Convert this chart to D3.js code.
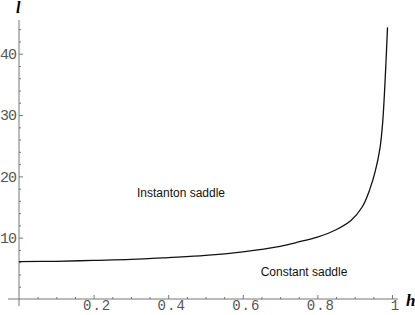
<!DOCTYPE html>
<html>
<head>
<meta charset="utf-8">
<script src="https://cdn.jsdelivr.net/npm/d3@7"></script>
<style>
  body { margin: 0; background: #fff; }
</style>
</head>
<body>
<div id="wrapper"></div>
<script>
// values
const hValues = [0, 0.1, 0.2, 0.3, 0.4, 0.5, 0.6, 0.7, 0.75, 0.8, 0.85, 0.89, 0.92, 0.94, 0.955, 0.968, 0.975, 0.981, 0.988]
const lValues = [6.1, 6.15, 6.3, 6.45, 6.75, 7.1, 7.7, 8.6, 9.3, 10.1, 11.3, 12.8, 15.0, 17.8, 20.8, 24.7, 28.8, 35.0, 44.3]

const xTickValues = [0.2, 0.4, 0.6, 0.8, 1]
const xTickLabels = ["0.2", "0.4", "0.6", "0.8", "1"]
const yTickValues = [10, 20, 30, 40]
const yTickLabels = ["10", "20", "30", "40"]
const regionLabels = ["Instanton saddle", "Constant saddle"]

const data = hValues.map((h, i) => ({ h: h, l: lValues[i] }))
const xAccessor = d => d.h
const yAccessor = d => d.l

let dms = {
  width: 415,
  height: 315,
}

const wrapper = d3.select("#wrapper")
  .append("svg")
  .attr("width", dms.width)
  .attr("height", dms.height)

const xScale = d3.scaleLinear()
  .domain([0, 1])
  .range([19, 392])

const yScale = d3.scaleLinear()
  .domain([0, 45.5])
  .range([299, 20])

const axisColor = "#777"
const labelFont = "'Liberation Mono', 'DejaVu Sans Mono', monospace"

// axis lines, drawn a bit past the origin like the original
wrapper.append("line")
  .attr("x1", 8).attr("x2", 398)
  .attr("y1", yScale(0)).attr("y2", yScale(0))
  .attr("stroke", axisColor)
  .attr("stroke-width", 1)

wrapper.append("line")
  .attr("x1", xScale(0)).attr("x2", xScale(0))
  .attr("y1", yScale(45.5)).attr("y2", 306)
  .attr("stroke", axisColor)
  .attr("stroke-width", 1)

// minor ticks
const xMinor = d3.range(1, 21).map(i => i * 0.05).filter(v => Math.round(v * 100) % 20 !== 0)
const yMinor = d3.range(1, 23).map(i => i * 2).filter(v => v % 10 !== 0)

wrapper.append("g")
  .attr("transform", `translate(0, ${yScale(0)})`)
  .call(d3.axisBottom(xScale).tickValues(xMinor).tickSize(-2).tickFormat(""))
  .call(g => g.select(".domain").remove())
  .call(g => g.selectAll("line").attr("stroke", axisColor))

wrapper.append("g")
  .attr("transform", `translate(${xScale(0)}, 0)`)
  .call(d3.axisLeft(yScale).tickValues(yMinor).tickSize(-2).tickFormat(""))
  .call(g => g.select(".domain").remove())
  .call(g => g.selectAll("line").attr("stroke", axisColor))

// major ticks + labels
const xAxis = wrapper.append("g")
  .attr("transform", `translate(0, ${yScale(0)})`)
  .call(d3.axisBottom(xScale)
    .tickValues(xTickValues)
    .tickSize(-4)
    .tickPadding(1)
    .tickFormat((d, i) => xTickLabels[i]))
  .call(g => g.select(".domain").remove())

xAxis.selectAll("line").attr("stroke", axisColor)
xAxis.selectAll("text")
  .attr("font-family", labelFont)
  .attr("font-size", 14)
  .attr("letter-spacing", 1)
  .attr("fill", "#555")
  .attr("dx", 3)

const yAxis = wrapper.append("g")
  .attr("transform", `translate(${xScale(0)}, 0)`)
  .call(d3.axisLeft(yScale)
    .tickValues(yTickValues)
    .tickSize(-4)
    .tickPadding(3)
    .tickFormat((d, i) => yTickLabels[i]))
  .call(g => g.select(".domain").remove())

yAxis.selectAll("line").attr("stroke", axisColor)
yAxis.selectAll("text")
  .attr("font-family", labelFont)
  .attr("font-size", 15)
  .attr("letter-spacing", -1)
  .attr("fill", "#555")

// axis names
wrapper.append("text")
  .attr("x", 16)
  .attr("y", 13)
  .attr("font-family", "'Liberation Serif', serif")
  .attr("font-style", "italic")
  .attr("font-weight", "bold")
  .attr("font-size", 16)
  .text("l")

wrapper.append("text")
  .attr("x", 406)
  .attr("y", 306)
  .attr("font-family", "'Liberation Serif', serif")
  .attr("font-style", "italic")
  .attr("font-weight", "bold")
  .attr("font-size", 17)
  .text("h")

// curve
const lineGenerator = d3.line()
  .x(d => xScale(xAccessor(d)))
  .y(d => yScale(yAccessor(d)))
  .curve(d3.curveCatmullRom.alpha(0.5))

wrapper.append("path")
  .attr("d", lineGenerator(data))
  .attr("fill", "none")
  .attr("stroke", "#111")
  .attr("stroke-width", 1.3)

// region labels
wrapper.append("text")
  .attr("x", 181)
  .attr("y", 197)
  .attr("text-anchor", "middle")
  .attr("font-family", "'Liberation Sans', Arial, sans-serif")
  .attr("font-size", 12)
  .attr("fill", "#111")
  .text(regionLabels[0])

wrapper.append("text")
  .attr("x", 304)
  .attr("y", 276)
  .attr("text-anchor", "middle")
  .attr("font-family", "'Liberation Sans', Arial, sans-serif")
  .attr("font-size", 12)
  .attr("fill", "#111")
  .text(regionLabels[1])
</script>
</body>
</html>
